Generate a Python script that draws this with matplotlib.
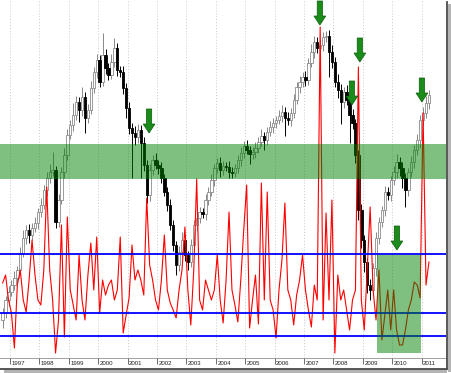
import numpy as np
import matplotlib
matplotlib.use("Agg")
import matplotlib.pyplot as plt
from matplotlib.patches import Rectangle, FancyArrow
from matplotlib.lines import Line2D
from matplotlib.transforms import ScaledTranslation

# ---------------- data ----------------
start_year = 1996.75
bar_step = 0.1

close = [
    47, 60, 68, 75, 82, 90, 107, 122, 130, 125,
    132, 137, 148, 155, 170, 182, 188, 190, 138, 160,
    188, 205, 225, 235, 245, 258, 250, 263, 242, 250,
    272, 288, 300, 278, 305, 292, 285, 298, 312, 290,
    288, 272, 252, 232, 227, 223, 230, 217, 195, 165,
    190, 200, 195, 192, 182, 168, 155, 135, 115, 95,
    108, 120, 105, 98, 115, 135, 142, 148, 146, 160,
    168, 180, 192, 197, 190, 194, 193, 188, 187, 192,
    200, 207, 214, 210, 206, 208, 212, 218, 224, 220,
    228, 233, 237, 240, 244, 248, 242, 240, 247, 260,
    273, 278, 283, 280, 297, 308, 318, 312, 315, 323,
    324, 308, 298, 278, 270, 258, 268, 260, 245, 237,
    205, 150, 120, 98, 75, 70, 92, 122, 138, 150,
    168, 165, 180, 188, 198, 192, 182, 170, 188, 198,
    210, 220, 240, 247, 257, 265]
first_open = 40

wick_up = [
    5, 4, 6, 5, 7, 4, 6, 8, 5, 6,
    5, 6, 4, 7, 5, 6, 8, 18, 4, 6,
    5, 7, 6, 5, 12, 6, 5, 10, 5, 6,
    7, 5, 6, 5, 22, 6, 5, 8, 10, 5,
    4, 6, 5, 6, 5, 7, 6, 5, 6, 5,
    6, 5, 7, 5, 6, 4, 5, 6, 5, 4,
    6, 8, 5, 4, 6, 5, 7, 5, 4, 6,
    5, 6, 4, 5, 6, 5, 4, 6, 5, 4,
    5, 6, 5, 6, 4, 5, 6, 5, 7, 4,
    5, 6, 5, 4, 6, 7, 5, 6, 5, 6,
    5, 6, 5, 6, 5, 8, 6, 5, 6, 5,
    5, 6, 7, 5, 8, 6, 5, 7, 5, 6,
    4, 5, 6, 5, 4, 6, 5, 6, 5, 4,
    6, 5, 4, 6, 8, 5, 6, 5, 4, 6,
    5, 6, 5, 6, 7, 5]
wick_dn = [
    8, 5, 6, 4, 5, 6, 5, 4, 6, 8,
    5, 4, 6, 5, 4, 6, 5, 4, 6, 5,
    4, 6, 5, 4, 6, 5, 12, 6, 15, 5,
    4, 5, 6, 5, 4, 6, 5, 4, 5, 6,
    5, 6, 10, 6, 45, 8, 6, 35, 6, 8,
    6, 5, 4, 6, 5, 4, 6, 5, 6, 10,
    6, 5, 6, 8, 5, 4, 6, 5, 4, 6,
    5, 4, 6, 5, 7, 5, 4, 6, 5, 4,
    5, 6, 5, 4, 10, 5, 6, 5, 4, 10,
    5, 4, 6, 5, 4, 6, 18, 5, 6, 5,
    4, 6, 5, 6, 5, 4, 6, 5, 4, 6,
    5, 25, 6, 5, 8, 22, 6, 5, 28, 6,
    8, 10, 8, 10, 8, 10, 6, 8, 6, 5,
    6, 5, 6, 5, 6, 8, 10, 17, 6, 5,
    6, 5, 8, 6, 5, 6]

osc = [
    77, 85, 60, 47, 12, 75, 90, 60, 48, 80,
    120, 85, 60, 55, 90, 173, 90, 60, 7, 40,
    135, 23, 143, 70, 55, 40, 105, 60, 40, 85,
    117, 70, 123, 47, 80, 65, 75, 80, 60, 70,
    123, 27, 45, 62, 115, 80, 90, 80, 65, 162,
    95, 80, 60, 50, 80, 125, 70, 57, 50, 42,
    70, 90, 133, 70, 35, 90, 181, 60, 50, 80,
    70, 60, 70, 105, 60, 37, 80, 148, 70, 55,
    38, 80, 130, 175, 32, 60, 85, 36, 177, 60,
    168, 60, 50, 22, 70, 100, 157, 70, 60, 35,
    65, 80, 105, 70, 50, 33, 75, 60, 333, 40,
    147, 60, 160, 7, 85, 60, 70, 50, 30, 60,
    70, 293, 60, 30, 90, 153, 70, 40, 90, 20,
    45, 70, 30, 70, 30, 15, 15, 30, 50, 60,
    78, 75, 62, 247, 75, 98]

years = list(range(1997, 2012))
year_labels = [str(y) for y in years]

band_low, band_high = 181, 216              # green price zone
osc_levels = [106, 47, 24]                   # blue horizontal lines
box_x0, box_x1, box_y0, box_y1 = 2009.48, 2010.98, 7, 105
arrow_x = [2001.73, 2007.54, 2008.90, 2008.63, 2011.01, 2010.16]
arrow_tip = [227, 335, 298, 255, 258, 110]

# ---------------- figure ----------------
W, H = 451, 373
fig = plt.figure(figsize=(W / 100, H / 100), dpi=100)
fig.patch.set_facecolor("white")
ax = fig.add_axes([0, (H - 358) / H, 446 / W, 358 / H])
ax.set_facecolor("white")
ax.set_xlim(1996.66, 2011.83)
ax.set_ylim(2, 360)

n = len(close)
x = start_year + bar_step * np.arange(n)
c = np.array(close, float)
o = np.r_[first_open, c[:-1]]
hi = np.maximum(o, c) + np.array(wick_up)
lo = np.minimum(o, c) - np.array(wick_dn)
up = c >= o

ax.grid(axis="x", color="#c8c8c8", linestyle=(0, (1, 2)), linewidth=0.7)
ax.set_axisbelow(True)

# wicks
ax.vlines(x[up], lo[up], hi[up], color="#888888", linewidth=0.7, zorder=2)
ax.vlines(x[~up], lo[~up], hi[~up], color="#000000", linewidth=0.7, zorder=2)
# bodies
bw = 0.08
ax.bar(x[up], (c - o)[up], bottom=o[up], width=bw, color="white",
       edgecolor="#8a8a8a", linewidth=0.6, zorder=3)
ax.bar(x[~up], (c - o)[~up], bottom=o[~up], width=bw, color="black",
       edgecolor="black", linewidth=0.6, zorder=3)

# oscillator
ax.plot(x, osc, color="#ff0000", linewidth=0.8, zorder=4)

# blue levels
for lv in osc_levels:
    ax.axhline(lv, color="#0000ff", linewidth=1.3, zorder=5)

# green overlays
ax.axhspan(band_low, band_high, color="#008000", alpha=0.5, linewidth=0, zorder=6)
ax.add_patch(Rectangle((box_x0, box_y0), box_x1 - box_x0, box_y1 - box_y0,
                       facecolor="#008000", alpha=0.5, linewidth=0, zorder=6))

# arrows
for ax_x, tip in zip(arrow_x, arrow_tip):
    ax.add_patch(FancyArrow(ax_x, tip + 24, 0, -24, width=0.18, head_width=0.4,
                            head_length=9, length_includes_head=True,
                            facecolor="#1a8c1a", edgecolor="#0a5a0a",
                            linewidth=0.5, zorder=7, clip_on=False))

# axes styling
for s in ["top", "left", "right"]:
    ax.spines[s].set_visible(False)
ax.spines["bottom"].set_color("#909090")
ax.spines["bottom"].set_linewidth(0.6)
ax.set_yticks([])
ax.set_xticks(years)
ax.set_xticklabels(year_labels, fontsize=4.4, family="Liberation Sans", color="#222222")
ax.tick_params(axis="x", direction="out", length=4.5, width=0.6, colors="#555555",
               pad=-2.5, labelcolor="#222222")
off = ScaledTranslation(1.5 / 100, 0, fig.dpi_scale_trans)
for lbl in ax.get_xticklabels():
    lbl.set_ha("left")
    lbl.set_transform(lbl.get_transform() + off)

# frame with drop shadow
fy = lambda py: (H - py) / H
fx = lambda px: px / W
fig.add_artist(Rectangle((fx(447.5), fy(372)), fx(3.5), fy(4) - fy(372),
                         transform=fig.transFigure, facecolor="#b4b4b4",
                         edgecolor="none"))
fig.add_artist(Rectangle((fx(4), fy(373)), fx(447) - fx(4), (373 - 369) / H,
                         transform=fig.transFigure, facecolor="#b4b4b4",
                         edgecolor="none"))
fig.add_artist(Line2D([fx(446.5), fx(446.5)], [fy(2), fy(368.5)],
                      transform=fig.transFigure, color="#4a4a4a", linewidth=1.3))
fig.add_artist(Line2D([fx(0), fx(447)], [fy(368.5), fy(368.5)],
                      transform=fig.transFigure, color="#4a4a4a", linewidth=1.3))

fig.savefig("out.png", dpi=100, facecolor="white")
